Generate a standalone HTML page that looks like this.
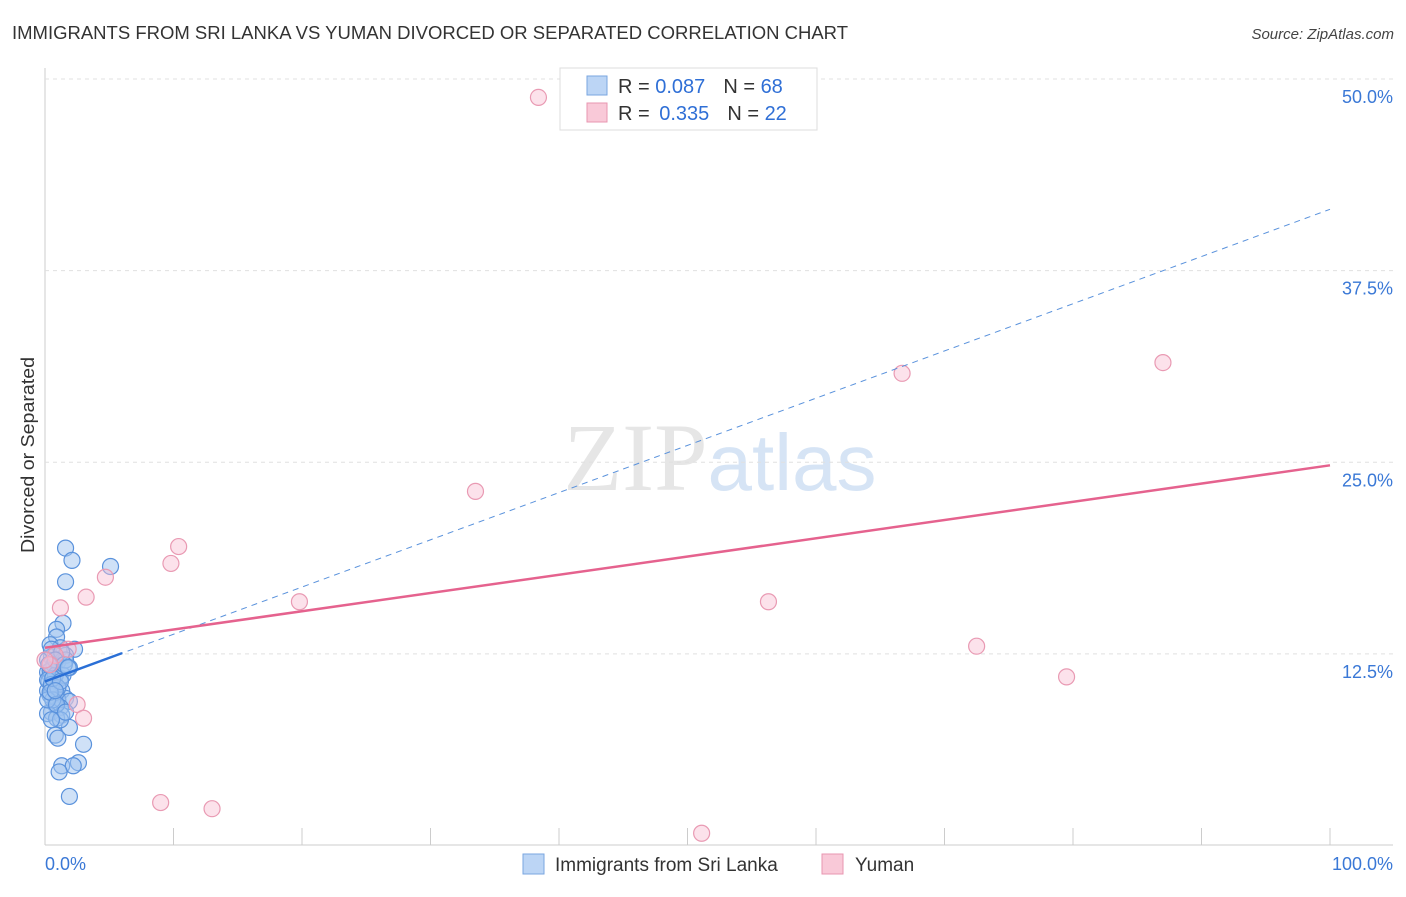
<!DOCTYPE html>
<html><head><meta charset="utf-8"><style>
body{margin:0;background:#fff;font-family:"Liberation Sans",sans-serif;}
</style></head><body>
<svg id="c" width="1406" height="892" xmlns="http://www.w3.org/2000/svg" style="font-family:'Liberation Sans',sans-serif">
<text x="12" y="39" font-size="18" fill="#333" textLength="836" lengthAdjust="spacingAndGlyphs">IMMIGRANTS FROM SRI LANKA VS YUMAN DIVORCED OR SEPARATED CORRELATION CHART</text>
<text x="1394" y="39" font-size="15" fill="#444" text-anchor="end" font-style="italic">Source: ZipAtlas.com</text>
<text x="720" y="490" font-size="96" text-anchor="middle" fill="#e6e6e6"><tspan font-family="Liberation Serif">ZIP</tspan><tspan fill="#d6e4f5" font-size="80">atlas</tspan></text>
<text transform="translate(34,455) rotate(-90)" font-size="18" fill="#333" text-anchor="middle" textLength="196" lengthAdjust="spacingAndGlyphs">Divorced or Separated</text>
<g id="grid"></g><g id="pts"></g><g id="trend"></g>
<g>
<rect x="560" y="68" width="257" height="62" fill="#fff" stroke="#ddd"/>
<rect x="587" y="76" width="20" height="19" fill="#bcd5f5" stroke="#7aa6e0"/>
<text x="618" y="93" font-size="20" fill="#333">R = <tspan fill="#2f6fd6">0.087</tspan><tspan dx="18">N = </tspan><tspan fill="#2f6fd6">68</tspan></text>
<rect x="587" y="103" width="20" height="19" fill="#f9c9d8" stroke="#e896b0"/>
<text x="618" y="120" font-size="20" fill="#333">R = <tspan fill="#2f6fd6" dx="4">0.335</tspan><tspan dx="18">N = </tspan><tspan fill="#2f6fd6">22</tspan></text>
</g>
<g>
<rect x="523" y="854" width="21" height="20" fill="#bcd5f5" stroke="#7aa6e0"/>
<text x="555" y="871" font-size="19" fill="#333">Immigrants from Sri Lanka</text>
<rect x="822" y="854" width="21" height="20" fill="#f9c9d8" stroke="#e896b0"/>
<text x="855" y="871" font-size="19" fill="#333">Yuman</text>
</g>
</svg>
<script>
const yTicks=[12.5,25,37.5,50];
const yTickLabels=["12.5%","25.0%","37.5%","50.0%"];
const xTickLabels=["0.0%","100.0%"];
const blueX=[1.6,2.1,5.1,1.6,1.4,0.9,0.9,0.4,1.2,2.3,1.6,0.5,0.2,1.0,1.9,0.6,0.2,0.4,1.2,0.3,0.8,0.5,0.2,1.3,0.9,0.4,1.6,1.0,1.9,0.8,1.2,0.5,0.2,1.3,0.9,1.9,0.8,1.0,3.0,1.3,2.6,2.2,1.1,1.9,0.5,0.7,0.4,0.8,1.4,0.2,0.5,1.0,1.6,1.3,0.6,1.2,0.2,0.8,1.5,0.4,0.9,1.8,0.6,1.2,0.3,0.8,1.6,0.5];
const blueY=[19.4,18.6,18.2,17.2,14.5,14.1,13.6,13.1,12.9,12.8,12.4,12.3,12.1,12.0,11.6,11.5,11.3,11.1,10.9,10.7,10.5,10.3,10.1,10.1,9.9,9.8,9.6,9.5,9.4,9.2,9.0,8.7,8.6,8.5,8.3,7.7,7.2,7.0,6.6,5.2,5.4,5.2,4.8,3.2,12.8,11.8,11.4,11.1,11.1,10.8,10.5,10.3,12.1,12.6,9.5,8.2,9.5,12.1,11.8,10.0,9.2,11.6,10.9,10.7,11.8,10.1,8.7,8.2];
const pinkX=[38.4,33.5,10.4,9.8,4.7,3.2,1.2,19.8,56.3,66.7,87.0,72.5,79.5,2.5,3.0,9.0,13.0,51.1,1.8,0.8,0.4,0];
const pinkY=[48.8,23.1,19.5,18.4,17.5,16.2,15.5,15.9,15.9,30.8,31.5,13.0,11.0,9.2,8.3,2.8,2.4,0.8,12.8,12.4,11.8,12.1];
const pinkTrend=[12.9,24.8];
const blueTrend=[10.7,41.5];
const X=v=>45+v*12.85, Y=v=>845.5-v*15.33;
const NS="http://www.w3.org/2000/svg";
function mk(p,t,a){const e=document.createElementNS(NS,t);for(const k in a)e.setAttribute(k,a[k]);p.appendChild(e);return e;}
const g=document.getElementById('grid');
const ax=mk(g,'line',{x1:45,y1:68,x2:45,y2:845,stroke:'#ccc'});


const bx=mk(g,'line',{x1:45,y1:845,x2:1393,y2:845,stroke:'#ccc'});


for(let i=1;i<=10;i++){const t=mk(g,'line',{x1:45+i*128.5,y1:828,x2:45+i*128.5,y2:845,stroke:'#ccc'});

}
yTicks.forEach((v,i)=>{const l=mk(g,'line',{x1:45,y1:Y(v),x2:1393,y2:Y(v),stroke:'#e0e0e0','stroke-dasharray':'4 4'});


const t=mk(g,'text',{x:1393,y:Y(v)+24,'font-size':18,fill:'#3a78d6','text-anchor':'end'});t.textContent=yTickLabels[i];

});
[[45,'start'],[1393,'end']].forEach((a,i)=>{const t=mk(g,'text',{x:a[0],y:870,'font-size':18,fill:'#3a78d6','text-anchor':a[1]});t.textContent=xTickLabels[i];

});
const P=document.getElementById('pts');
blueX.forEach((x,i)=>{const c=mk(P,'circle',{cx:X(x),cy:Y(blueY[i]),r:8,fill:'rgba(160,196,240,0.5)',stroke:'#5a92dc','stroke-width':1.2});

});
pinkX.forEach((x,i)=>{const c=mk(P,'circle',{cx:X(x),cy:Y(pinkY[i]),r:8,fill:'rgba(248,190,210,0.45)',stroke:'#e99ab3','stroke-width':1.2});

});
const T=document.getElementById('trend');
const d=mk(T,'line',{x1:X(0),y1:Y(blueTrend[0]),x2:X(100),y2:Y(blueTrend[1]),stroke:'#5a92dc','stroke-width':1,'stroke-dasharray':'6 5'});


const s=mk(T,'line',{x1:X(0),y1:Y(blueTrend[0]),x2:X(6),y2:Y(blueTrend[0]+(blueTrend[1]-blueTrend[0])*0.06),stroke:'#2a6fd6','stroke-width':2.5});


const p=mk(T,'line',{x1:X(0),y1:Y(pinkTrend[0]),x2:X(100),y2:Y(pinkTrend[1]),stroke:'#e5628e','stroke-width':2.5});


</script>
</body></html>
